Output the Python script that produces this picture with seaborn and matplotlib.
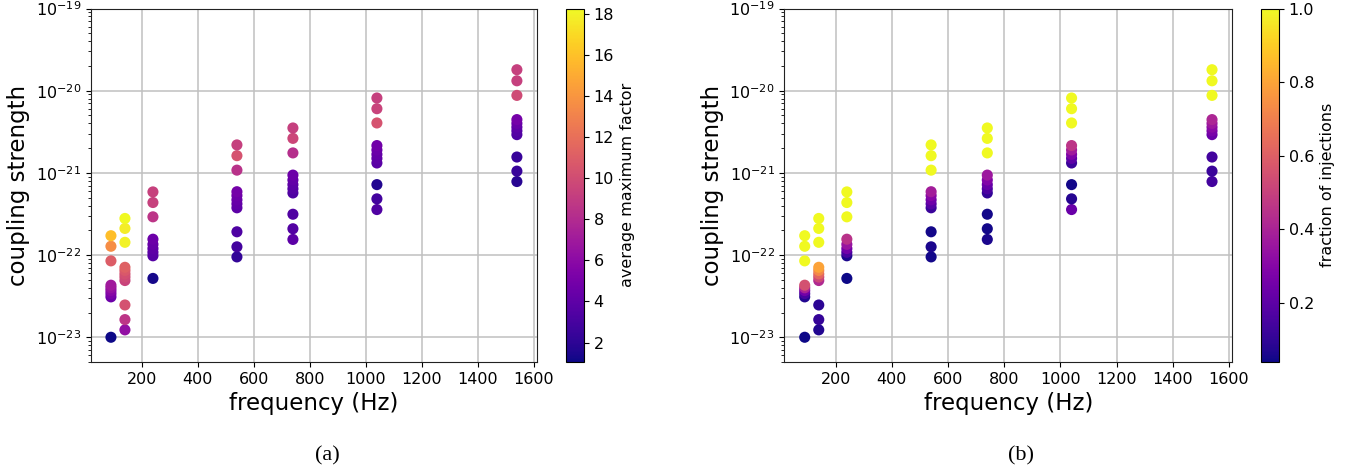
import numpy as np
import pandas as pd
import matplotlib
matplotlib.use("Agg")
import matplotlib.pyplot as plt
import seaborn as sns
from matplotlib.colors import Normalize
from matplotlib.cm import ScalarMappable
from matplotlib.ticker import NullFormatter, FixedLocator, LogFormatterSciNotation

# Injection frequencies (Hz) and, per frequency, the measured coupling strengths
freq_list = [90, 140, 240, 540, 740, 1040, 1540]

coupling_90 = [1.0e-23, 3.1e-23, 3.4e-23, 3.7e-23, 4.0e-23, 4.3e-23, 8.5e-23, 1.28e-22, 1.72e-22]
coupling_140 = [1.23e-23, 1.64e-23, 2.47e-23, 4.9e-23, 5.4e-23, 5.9e-23, 6.5e-23, 7.1e-23,
                1.43e-22, 2.11e-22, 2.79e-22]
coupling_240 = [5.2e-23, 9.8e-23, 1.08e-22, 1.2e-22, 1.35e-22, 1.56e-22, 2.92e-22, 4.36e-22, 5.87e-22]
coupling_540 = [9.5e-23, 1.26e-22, 1.92e-22, 3.76e-22, 4.2e-22, 4.7e-22, 5.3e-22, 5.9e-22,
                1.08e-21, 1.62e-21, 2.19e-21]
coupling_740 = [1.55e-22, 2.09e-22, 3.14e-22, 5.7e-22, 6.4e-22, 7.2e-22, 8.2e-22, 9.4e-22,
                1.75e-21, 2.63e-21, 3.52e-21]
coupling_1040 = [3.58e-22, 4.83e-22, 7.2e-22, 1.32e-21, 1.5e-21, 1.68e-21, 1.9e-21, 2.15e-21,
                 4.05e-21, 6.04e-21, 8.15e-21]
coupling_1540 = [7.85e-22, 1.05e-21, 1.56e-21, 2.92e-21, 3.25e-21, 3.6e-21, 4.0e-21, 4.45e-21,
                 8.77e-21, 1.32e-20, 1.80e-20]

# Average maximum factor for each point
factor_90 = [1.05, 4.6, 5.2, 5.8, 6.4, 7.0, 11.0, 13.6, 15.9]
factor_140 = [6.3, 8.6, 10.3, 9.4, 9.8, 10.2, 10.7, 11.2, 18.0, 17.8, 18.28]
factor_240 = [1.3, 3.6, 3.8, 4.0, 4.3, 4.6, 8.6, 9.3, 9.3]
factor_540 = [2.2, 2.9, 3.3, 3.9, 4.1, 4.4, 4.6, 4.9, 8.4, 10.4, 9.2]
factor_740 = [3.9, 3.5, 3.4, 3.3, 3.6, 3.9, 4.2, 4.6, 8.2, 9.6, 9.2]
factor_1040 = [3.4, 2.8, 1.6, 3.8, 4.0, 4.2, 4.5, 4.8, 10.4, 9.4, 9.2]
factor_1540 = [1.8, 2.4, 2.4, 3.3, 3.6, 3.9, 4.4, 5.0, 9.9, 9.2, 9.2]

# Fraction of injections for each point
fraction_90 = [0.04, 0.07, 0.15, 0.25, 0.40, 0.55, 1.0, 1.0, 1.0]
fraction_140 = [0.07, 0.11, 0.09, 0.42, 0.52, 0.62, 0.72, 0.80, 1.0, 1.0, 1.0]
fraction_240 = [0.04, 0.06, 0.15, 0.25, 0.35, 0.45, 1.0, 1.0, 1.0]
fraction_540 = [0.05, 0.06, 0.05, 0.12, 0.18, 0.24, 0.30, 0.38, 1.0, 1.0, 1.0]
fraction_740 = [0.06, 0.05, 0.05, 0.10, 0.16, 0.22, 0.29, 0.36, 1.0, 1.0, 1.0]
fraction_1040 = [0.23, 0.08, 0.05, 0.12, 0.20, 0.28, 0.37, 0.46, 1.0, 1.0, 1.0]
fraction_1540 = [0.14, 0.12, 0.14, 0.23, 0.27, 0.31, 0.36, 0.41, 1.0, 1.0, 1.0]

# Axis tick positions
y_ticks = [1e-23, 1e-22, 1e-21, 1e-20, 1e-19]
x_ticks = [200, 400, 600, 800, 1000, 1200, 1400, 1600]

couplings = [coupling_90, coupling_140, coupling_240, coupling_540,
             coupling_740, coupling_1040, coupling_1540]
factors = [factor_90, factor_140, factor_240, factor_540,
           factor_740, factor_1040, factor_1540]
fractions = [fraction_90, fraction_140, fraction_240, fraction_540,
             fraction_740, fraction_1040, fraction_1540]

rows = []
for f, cs, fs, fr in zip(freq_list, couplings, factors, fractions):
    for c, a, b in zip(cs, fs, fr):
        rows.append({"frequency": f, "coupling": c, "factor": a, "fraction": b})
df = pd.DataFrame(rows)

fig = plt.figure(figsize=(13.61, 4.76), dpi=100)

panels = [
    ("factor", "average maximum factor", [0.0666, 0.2395, 0.3281, 0.7426],
     [0.4159, 0.2395, 0.0132, 0.7426], "(a)", 0.2403),
    ("fraction", "fraction of injections", [0.5763, 0.2395, 0.3292, 0.7426],
     [0.9263, 0.2395, 0.0134, 0.7426], "(b)", 0.7502),
]

for col, clabel, ax_rect, cb_rect, tag, tag_x in panels:
    ax = fig.add_axes(ax_rect)
    cax = fig.add_axes(cb_rect)
    norm = Normalize(vmin=df[col].min(), vmax=df[col].max())
    sns.scatterplot(data=df, x="frequency", y="coupling", hue=col,
                    palette="plasma", hue_norm=norm, s=64, linewidth=0,
                    edgecolor="none", legend=False, ax=ax, zorder=3)
    ax.set_yscale("log")
    ax.set_ylim(5e-24, 1e-19)
    ax.yaxis.set_major_locator(FixedLocator(y_ticks))
    ax.yaxis.set_major_formatter(LogFormatterSciNotation())
    ax.yaxis.set_minor_formatter(NullFormatter())
    ax.set_xticks(x_ticks)
    ax.set_xlim(17.5, 1612.5)
    ax.grid(True, which="major", color="#c0c0c0", linewidth=1.1, zorder=0)
    ax.set_axisbelow(True)
    ax.set_xlabel("frequency (Hz)", fontsize=16.5)
    ax.set_ylabel("coupling strength", fontsize=16.5)
    ax.tick_params(labelsize=11.5)
    for sp in ax.spines.values():
        sp.set_color("#222222")

    sm = ScalarMappable(norm=norm, cmap="plasma")
    sm.set_array([])
    cb = fig.colorbar(sm, cax=cax)
    cb.set_label(clabel, fontsize=11.5)
    cb.ax.tick_params(labelsize=11.5)

    fig.text(tag_x, 0.042, tag, ha="center", va="center",
             fontsize=16, family="Liberation Serif")

fig.savefig("out.png", dpi=100)
